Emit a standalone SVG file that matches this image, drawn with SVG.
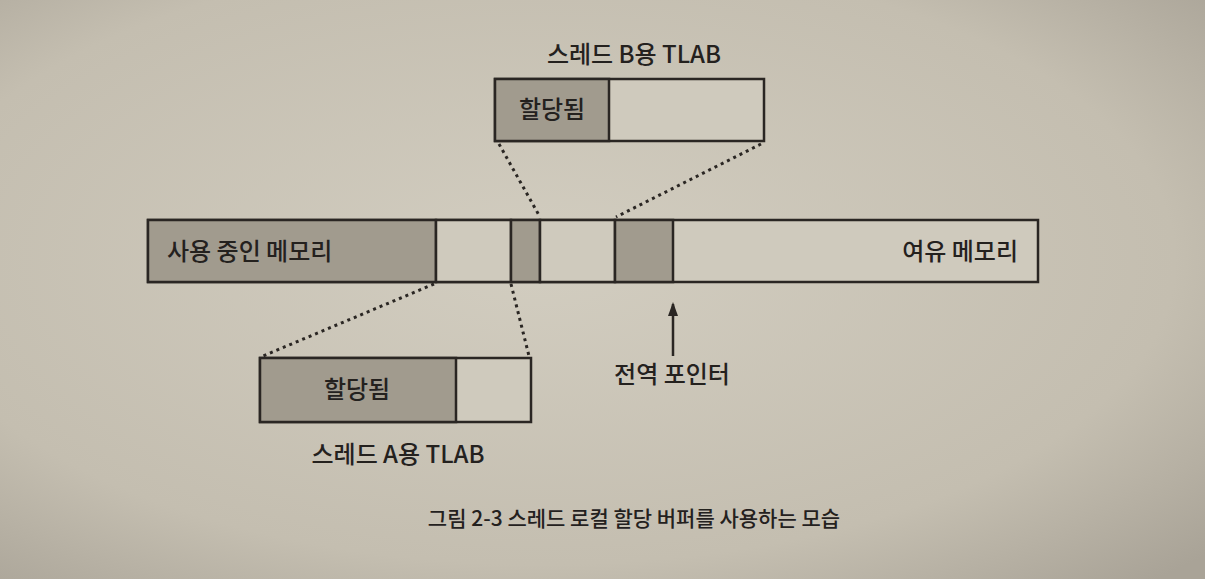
<svg xmlns="http://www.w3.org/2000/svg" width="1205" height="579" viewBox="0 0 1205 579">
<defs>
<radialGradient id="bg" cx="0.45" cy="0.45" r="0.75">
<stop offset="0" stop-color="#d2cdc0"/>
<stop offset="0.7" stop-color="#c4beb0"/>
<stop offset="1" stop-color="#a9a397"/>
</radialGradient>
<marker id="arr" markerWidth="14" markerHeight="12" refX="12" refY="6" orient="auto" markerUnits="userSpaceOnUse" viewBox="0 0 14 12">
<path d="M0,1 L14,6 L0,11 Z" fill="#2a2623"/>
</marker>
<style>
.dark{fill:#a19b8e;stroke:#2a2623;stroke-width:2.5}
.light{fill:#cfcabd;stroke:#2a2623;stroke-width:2.5}
.t{font-family:"Noto Sans CJK KR","Noto Sans",sans-serif;fill:#24211e;font-weight:500;font-size:24px}
.dot{stroke:#2a2623;stroke-width:3;stroke-dasharray:3 4;fill:none}
</style>
</defs>
<rect width="1205" height="579" fill="url(#bg)"/>

<g id="memory-bar">
<rect class="light" x="148" y="220" width="890" height="62"/>
<rect class="dark" x="148" y="220" width="288" height="62"/>
<rect class="light" x="436" y="220" width="75" height="62"/>
<rect class="dark" x="511" y="220" width="29" height="62"/>
<rect class="light" x="540" y="220" width="75" height="62"/>
<rect class="dark" x="615" y="220" width="58" height="62"/>
<text class="t" x="167" y="260">사용 중인 메모리</text>
<text class="t" x="1018" y="260" text-anchor="end">여유 메모리</text>
</g>

<g id="tlab-b">
<rect class="light" x="495" y="79" width="269" height="62"/>
<rect class="dark" x="495" y="79" width="114" height="62"/>
<text class="t" x="552" y="118" text-anchor="middle">할당됨</text>
<text class="t" x="634" y="63" text-anchor="middle">스레드 B용 TLAB</text>
</g>

<g id="tlab-a">
<rect class="light" x="260" y="358" width="271" height="64"/>
<rect class="dark" x="260" y="358" width="196" height="64"/>
<text class="t" x="357" y="398" text-anchor="middle">할당됨</text>
<text class="t" x="398" y="463" text-anchor="middle">스레드 A용 TLAB</text>
</g>

<g id="global-pointer">
<text class="t" x="672" y="383" text-anchor="middle">전역 포인터</text>
</g>

<g id="connectors">
<line class="dot" x1="499" y1="144" x2="540" y2="217"/>
<line class="dot" x1="761" y1="144" x2="616" y2="217"/>
<line class="dot" x1="434" y1="284" x2="263" y2="356"/>
<line class="dot" x1="511" y1="284" x2="529" y2="356"/>
<line x1="673" y1="356" x2="673" y2="304" stroke="#2a2623" stroke-width="2.5" marker-end="url(#arr)"/>
</g>

<text class="t" x="634" y="526" text-anchor="middle" style="font-size:21px">그림 2-3 스레드 로컬 할당 버퍼를 사용하는 모습</text>
</svg>
